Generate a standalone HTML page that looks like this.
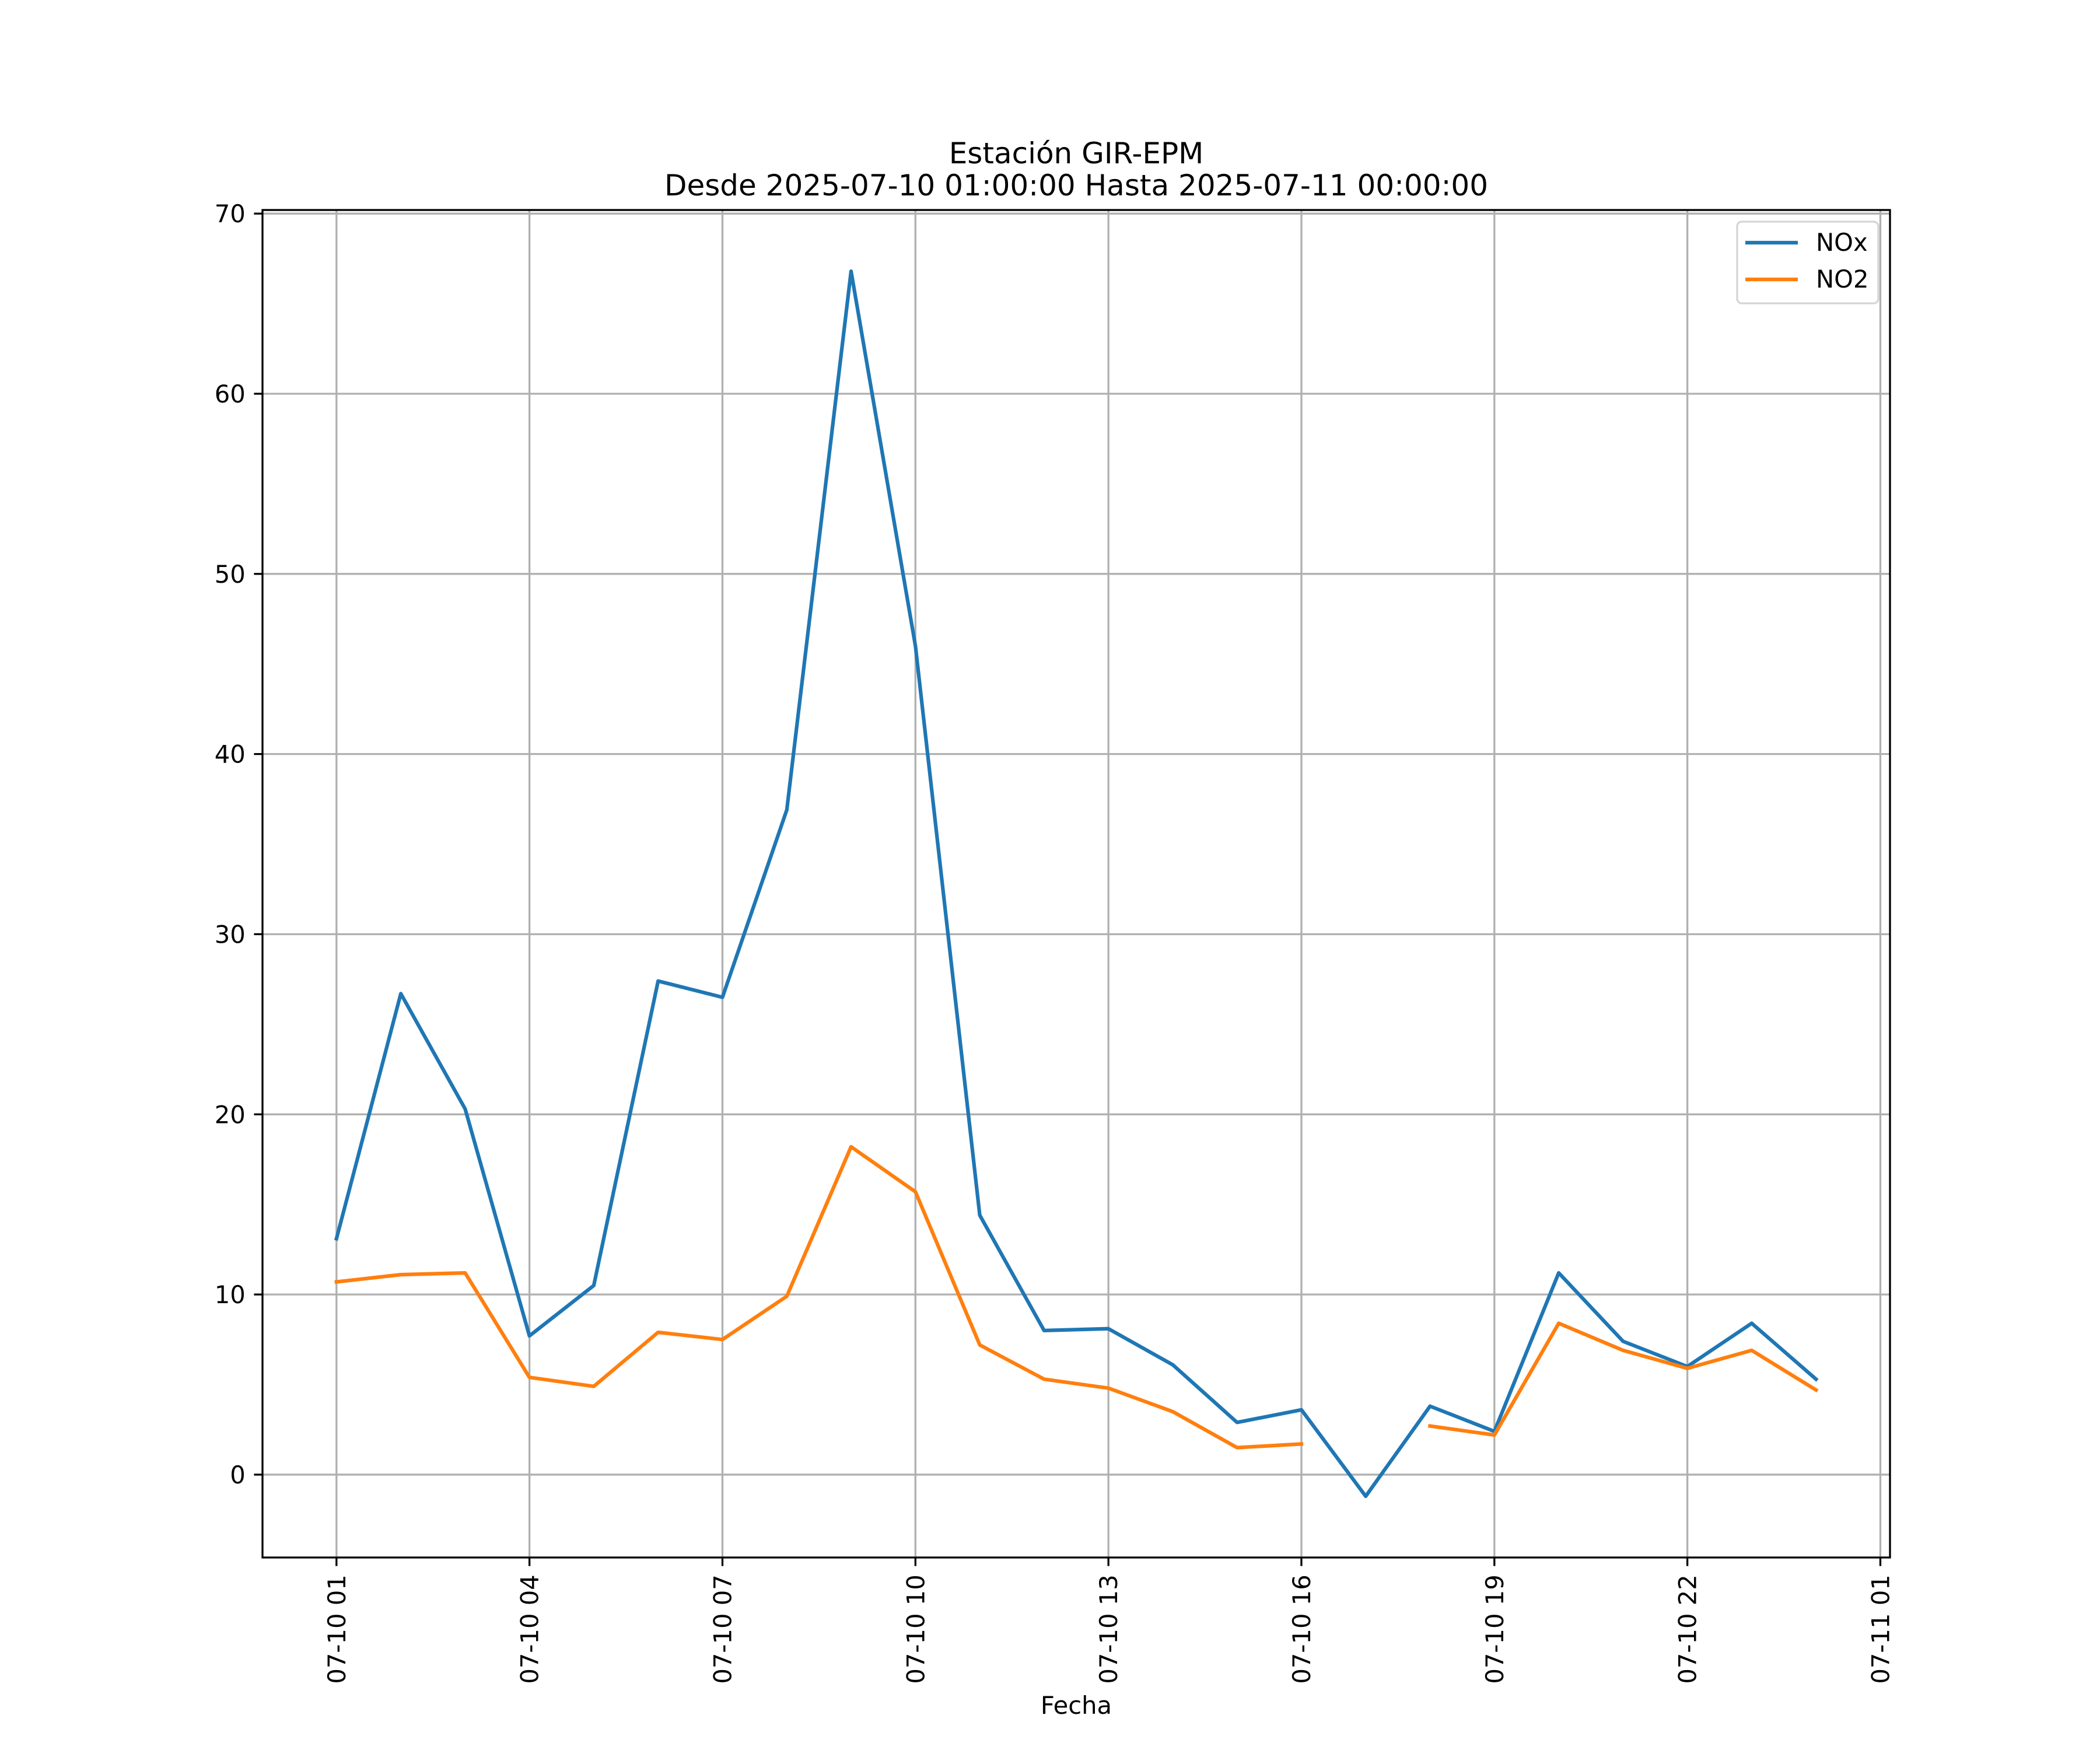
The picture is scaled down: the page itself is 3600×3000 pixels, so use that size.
<!DOCTYPE html>
<html><head><meta charset="utf-8"><style>
html,body{margin:0;padding:0;background:#fff;}
svg{display:block;font-family:"DejaVu Sans","Liberation Sans",sans-serif;}
</style></head><body>
<svg id="chart" width="3600" height="3000" viewBox="0 0 3600 3000" xmlns="http://www.w3.org/2000/svg">
<rect width="3600" height="3000" fill="#fff"/>
<g id="grid"></g>
<g id="series"></g>
<rect x="450" y="360" width="2790" height="2310" fill="none" stroke="#000" stroke-width="3.3"/>
<g id="ticks"></g>
<text x="1845" y="280" font-size="50" text-anchor="middle">Estación GIR-EPM</text>
<text x="1845" y="335" font-size="50" text-anchor="middle">Desde 2025-07-10 01:00:00 Hasta 2025-07-11 00:00:00</text>
<text x="1845" y="2938" font-size="41.7" text-anchor="middle">Fecha</text>
<g>
<rect x="2978" y="380" width="242" height="140" rx="8" fill="#fff" fill-opacity="0.8" stroke="#d5d5d5" stroke-width="3.3"/>
<line x1="2992" y1="416" x2="3082" y2="416" stroke="#1f77b4" stroke-width="6.25"/>
<text x="3113" y="430" font-size="41.7">NOx</text>
<line x1="2992" y1="479" x2="3082" y2="479" stroke="#ff7f0e" stroke-width="6.25"/>
<text x="3113" y="493" font-size="41.7">NO2</text>
</g>
</svg>
<script>
const hours = [1,2,3,4,5,6,7,8,9,10,11,12,13,14,15,16,17,18,19,20,21,22,23,24];
const noxValues = [13.1,26.7,20.3,7.7,10.5,27.4,26.5,36.9,66.8,46.0,14.4,8.0,8.1,6.1,2.9,3.6,-1.2,3.8,2.4,11.2,7.4,6.0,8.4,5.3];
const no2Values = [10.7,11.1,11.2,5.4,4.9,7.9,7.5,9.9,18.2,15.7,7.2,5.3,4.8,3.5,1.5,1.7,null,2.7,2.2,8.4,6.9,5.9,6.9,4.7];
const xTickHours = [1,4,7,10,13,16,19,22,25];
const xTickLabels = ["07-10 01","07-10 04","07-10 07","07-10 10","07-10 13","07-10 16","07-10 19","07-10 22","07-11 01"];
const yTicks = [0,10,20,30,40,50,60,70];

const NS = "http://www.w3.org/2000/svg";
const L=450,R=3240,T=360,B=2670;
const allVals = noxValues.concat(no2Values).filter(v=>v!==null);
const dmin=Math.min(...allVals), dmax=Math.max(...allVals);
const ymin=dmin-0.05*(dmax-dmin), ymax=dmax+0.05*(dmax-dmin);
const hmin=hours[0], hmax=hours[hours.length-1];
const xmin=hmin-0.05*(hmax-hmin), xmax=hmax+0.05*(hmax-hmin);
function xs(h){return L+(h-xmin)/(xmax-xmin)*(R-L);}
function ys(v){return B-(v-ymin)/(ymax-ymin)*(B-T);}
function mk(tag,attrs,parent){const e=document.createElementNS(NS,tag);for(const k in attrs)e.setAttribute(k,attrs[k]);parent.appendChild(e);return e;}
const grid=document.getElementById('grid'), ticks=document.getElementById('ticks'), series=document.getElementById('series');

xTickHours.forEach((h,i)=>{
  const x=xs(h);
  const g=mk('line',{x1:x,y1:T,x2:x,y2:B,stroke:'#b0b0b0','stroke-width':3.3},grid);
  
  
  const t=mk('line',{x1:x,y1:B,x2:x,y2:B+14.6,stroke:'#000','stroke-width':3.3},ticks);
  
  
  const lb=mk('text',{x:0,y:0,'font-size':41.7,'text-anchor':'end',transform:`translate(${x+15},${B+29.2}) rotate(-90)`},ticks);
  lb.textContent=xTickLabels[i];
  
  
});
yTicks.forEach(v=>{
  const y=ys(v);
  const g=mk('line',{x1:L,y1:y,x2:R,y2:y,stroke:'#b0b0b0','stroke-width':3.3},grid);
  
  
  const t=mk('line',{x1:L-14.6,y1:y,x2:L,y2:y,stroke:'#000','stroke-width':3.3},ticks);
  
  
  const lb=mk('text',{x:L-29.2,y:y+15,'font-size':41.7,'text-anchor':'end'},ticks);
  lb.textContent=String(v);
  
  
});
function drawSeries(vals,color,name){
  let d='',pen=false;
  vals.forEach((v,i)=>{
    if(v===null){pen=false;return;}
    d+=(pen?'L':'M')+xs(hours[i]).toFixed(1)+' '+ys(v).toFixed(1)+' ';
    pen=true;
  });
  const p=mk('path',{d:d,fill:'none',stroke:color,'stroke-width':6.25,'stroke-linejoin':'round','stroke-linecap':'square'},series);
  
  
}
drawSeries(noxValues,'#1f77b4','nox-line');
drawSeries(no2Values,'#ff7f0e','no2-line');
</script>
</body></html>
